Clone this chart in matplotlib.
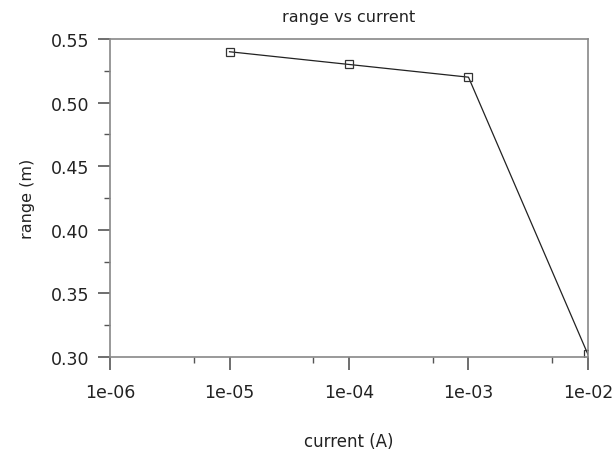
import matplotlib
matplotlib.use('Agg')
import matplotlib.pyplot as plt
from matplotlib.ticker import FixedLocator, FixedFormatter, MultipleLocator

current = [1e-5, 1e-4, 1e-3, 1e-2]
rng = [0.54, 0.53, 0.52, 0.302]
xticks = [1e-6, 1e-5, 1e-4, 1e-3, 1e-2]
xticklabels = ['1e-06', '1e-05', '1e-04', '1e-03', '1e-02']
xminor = [5e-6, 5e-5, 5e-4, 5e-3]

fig = plt.figure(figsize=(6.16, 4.6), dpi=100)
ax = fig.add_axes([0.1786, 0.2217, 0.7759, 0.6913])
ax.plot(current, rng, color='#222222', lw=0.9, marker='s', ms=6,
        mfc='none', mec='#333333', mew=0.9)
ax.set_xscale('log')
ax.set_xlim(1e-6, 1e-2)
ax.set_ylim(0.30, 0.55)
ax.xaxis.set_major_locator(FixedLocator(xticks))
ax.xaxis.set_major_formatter(FixedFormatter(xticklabels))
ax.xaxis.set_minor_locator(FixedLocator(xminor))
ax.xaxis.set_minor_formatter(FixedFormatter([''] * len(xminor)))
ax.yaxis.set_major_locator(MultipleLocator(0.05))
ax.yaxis.set_minor_locator(MultipleLocator(0.025))
ax.yaxis.set_major_formatter(plt.FuncFormatter(lambda v, p: f'{v:.2f}'))
for s in ax.spines.values():
    s.set_color('#888888')
    s.set_linewidth(1.2)
ax.tick_params(which='major', direction='out', length=9, width=1.2,
               color='#555555', labelsize=12.5, labelcolor='#222222')
ax.tick_params(axis='y', which='major', pad=6)
ax.tick_params(axis='x', which='major', pad=10)
ax.tick_params(which='minor', direction='out', length=4, width=1.0,
               color='#555555')
ax.set_title('range vs current', fontsize=11.5, color='#222222', pad=13)
ax.set_ylabel('range (m)', fontsize=11.5, color='#222222', labelpad=11)
ax.set_xlabel('current (A)', fontsize=12, color='#222222', labelpad=22)
fig.savefig('out.png', dpi=100)
